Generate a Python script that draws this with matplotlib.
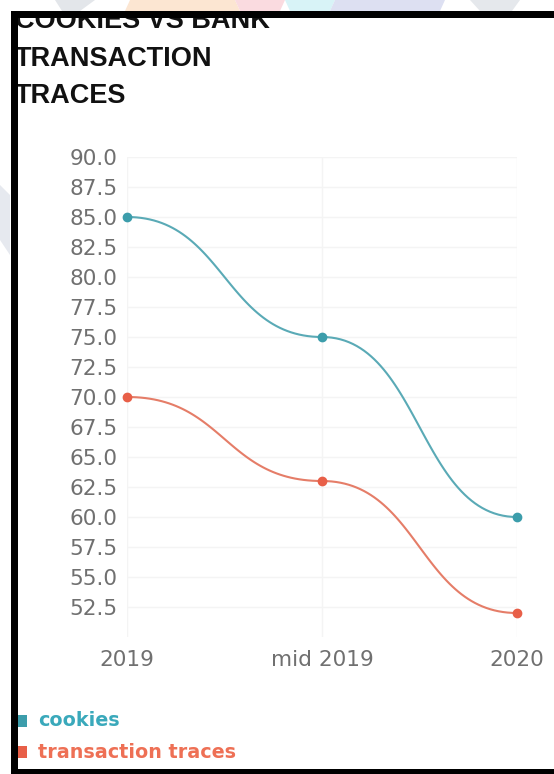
import numpy as np
import matplotlib
matplotlib.use("Agg")
import matplotlib.pyplot as plt
from matplotlib.patches import Rectangle, Polygon

categories = ["2019", "mid 2019", "2020"]
cookies = [85.0, 75.0, 60.0]
transaction_traces = [70.0, 63.0, 52.0]
y_ticks = [52.5, 55.0, 57.5, 60.0, 62.5, 65.0, 67.5, 70.0, 72.5, 75.0, 77.5, 80.0, 82.5, 85.0, 87.5, 90.0]
title_lines = ["COOKIES VS BANK", "TRANSACTION", "TRACES"]
series_names = ["cookies", "transaction traces"]

W, H = 554, 774
fig = plt.figure(figsize=(W / 100, H / 100), dpi=100)
fig.patch.set_facecolor("white")

def fx(px):
    return px / W

def fy(py):
    return 1 - py / H

# background pastel shapes above frame
bg = fig.add_axes([0, 0, 1, 1], zorder=-5)
bg.set_xlim(0, W)
bg.set_ylim(H, 0)
bg.axis("off")
shapes = [
    ([(55, 0), (95, 0), (80, 11), (62, 11)], "#e3e6ea"),
    ([(130, 0), (235, 0), (240, 11), (125, 11)], "#fce6d2"),
    ([(235, 0), (285, 0), (280, 11), (240, 11)], "#fadbe0"),
    ([(285, 0), (335, 0), (330, 11), (290, 11)], "#d8f3f7"),
    ([(335, 0), (445, 0), (440, 11), (330, 11)], "#dde0f2"),
    ([(470, 0), (520, 0), (512, 11), (480, 11)], "#e5e8ec"),
    ([(0, 185), (10, 195), (10, 255), (0, 240)], "#e6e9ef"),
]
for pts, c in shapes:
    bg.add_patch(Polygon(pts, closed=True, facecolor=c, edgecolor="none"))

ax = fig.add_axes([fx(127), fy(637), fx(517) - fx(127), fy(157) - fy(637)])
x = np.arange(len(categories))

def smooth(xs, ys, n=60):
    outx, outy = [], []
    for i in range(len(xs) - 1):
        x0, x1 = xs[i], xs[i + 1]
        y0, y1 = ys[i], ys[i + 1]
        dx = x1 - x0
        t = np.linspace(0, 1, n)
        p0 = np.array([x0, y0]); p1 = np.array([x0 + dx / 2, y0])
        p2 = np.array([x1 - dx / 2, y1]); p3 = np.array([x1, y1])
        pts = ((1 - t) ** 3)[:, None] * p0 + (3 * (1 - t) ** 2 * t)[:, None] * p1 \
            + (3 * (1 - t) * t ** 2)[:, None] * p2 + (t ** 3)[:, None] * p3
        outx.extend(pts[:, 0]); outy.extend(pts[:, 1])
    return np.array(outx), np.array(outy)

line_cols = ["#5aaab6", "#e57d68"]
mark_cols = ["#3c9dab", "#e85f48"]
text_cols = ["#3aa9bb", "#ee7055"]
for vals, lc, mc in zip([cookies, transaction_traces], line_cols, mark_cols):
    sx, sy = smooth(x, vals)
    ax.plot(sx, sy, color=lc, lw=1.5, clip_on=False, zorder=3)
    ax.plot(x, vals, "o", color=mc, ms=6, clip_on=False, zorder=4)

ax.set_xlim(0, 2)
ax.set_ylim(50, 90)
ax.set_yticks(y_ticks)
ax.set_yticklabels([f"{v:.1f}" for v in y_ticks])
ax.set_xticks(x)
ax.set_xticklabels(categories)
ax.tick_params(axis="y", length=0, pad=7, labelsize=15.6, labelcolor="#707070")
ax.tick_params(axis="x", length=0, pad=9, labelsize=15.6, labelcolor="#707070")
for lab in ax.get_yticklabels() + ax.get_xticklabels():
    lab.set_fontfamily("DejaVu Sans")
ax.grid(True, color="#f4f4f4", lw=1)
ax.set_axisbelow(True)
for s in ax.spines.values():
    s.set_visible(False)

# title inside a clipping axes that starts below the top frame bar
tax = fig.add_axes([fx(18), fy(140), fx(W) - fx(18), fy(18) - fy(140)], zorder=2)
tax.set_xlim(18, W)
tax.set_ylim(140, 18)
tax.axis("off")
tax.patch.set_alpha(0)
for i, t in enumerate(title_lines):
    tax.text(15, 28 + 37.5 * i, t, fontsize=19.5, fontweight="bold",
             family="Liberation Sans", color="#111111", va="baseline", ha="left",
             clip_on=True)

# legend
for i, (name, c) in enumerate(zip(series_names, text_cols)):
    yy = 721 + 31 * i
    fig.patches.append(Rectangle((fx(16), fy(yy + 6)), fx(11), fy(0) - fy(12),
                                 transform=fig.transFigure, facecolor=mark_cols[i],
                                 edgecolor="none", zorder=5))
    fig.text(fx(38), fy(yy), name, fontsize=13.8, fontweight="bold", family="DejaVu Sans",
             color=c, va="center", ha="left")

# black frame
frame = fig.add_axes([0, 0, 1, 1], zorder=10)
frame.set_xlim(0, W)
frame.set_ylim(H, 0)
frame.axis("off")
frame.patch.set_alpha(0)
frame.add_patch(Rectangle((11, 11), W - 11, 7, facecolor="black", edgecolor="none"))
frame.add_patch(Rectangle((11, 11), 7, H - 11, facecolor="black", edgecolor="none"))
frame.add_patch(Rectangle((11, 769), W - 11, 5, facecolor="black", edgecolor="none"))

fig.savefig("out.png", dpi=100, facecolor="white")
